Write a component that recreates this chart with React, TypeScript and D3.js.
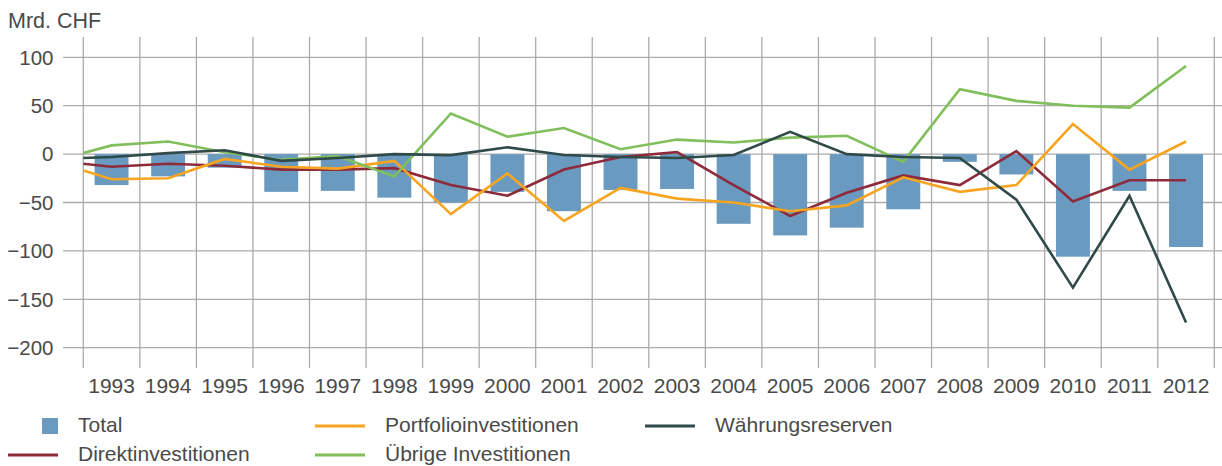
import React from "react";
import * as d3 from "d3";

const years = ["1993","1994","1995","1996","1997","1998","1999","2000","2001","2002","2003","2004","2005","2006","2007","2008","2009","2010","2011","2012"];
// line series start with a 1992 value (clipped at the plot's left edge)
const lineYears = ["1992", ...years];
const total = [-32,-23,-14,-39,-38,-45,-50,-39,-59,-37,-36,-72,-84,-76,-57,-8,-21,-106,-38,-96];
const direkt = [-7,-13,-10,-12,-16,-16,-14.5,-32,-43,-16,-3,2,-32,-64,-40,-22,-32,3,-49,-27,-27];
const portfolio = [-8,-26,-25,-5,-13,-15,-7,-62,-20,-69,-35,-46,-50,-59,-53,-24,-39,-32,31,-16,13];
const uebrige = [-7,9,13,2,-6,-2,-23,42,18,27,5,15,12,17,19,-8,67,55,50,48,91];
const waehrung = [-5,-3,1,4,-7,-4,0,-1,7,-1,-3,-4,-1,23,0,-3,-4,-47,-138,-43,-174];
const yTicks = [100, 50, 0, -50, -100, -150, -200];
const unitLabel = "Mrd. CHF";

const W = 1222, H = 466;
const FONT = "'Liberation Sans', Arial, sans-serif";
const TEXT = "#4a4a4a";
const GRID = "#ababab";

const C = {
  total: "#6a9ac0",
  direkt: "#8e2b3b",
  portfolio: "#f7a521",
  uebrige: "#80bf5c",
  waehrung: "#2f4a48",
};

export default function App() {
  const plotL = 83.3, plotR = 1214.3, plotT = 37, plotB = 368;
  const y = d3.scaleLinear().domain([-221, 121]).range([plotB, plotT]);
  const x = d3.scaleBand<string>().domain(years).range([plotL, plotR]).paddingInner(0.4).paddingOuter(0.2);
  const step = x.step();
  const bw = x.bandwidth();
  const cx = (yr: string) => x(years[0])! + bw / 2 + (+yr - +years[0]) * step;
  const boundaries = d3.range(years.length + 1).map((i) => plotL + i * step);

  const line = d3.line<number>().x((_, i) => cx(lineYears[i])).y((v) => y(v));

  const series = [
    { key: "direkt", data: direkt, color: C.direkt },
    { key: "portfolio", data: portfolio, color: C.portfolio },
    { key: "uebrige", data: uebrige, color: C.uebrige },
    { key: "waehrung", data: waehrung, color: C.waehrung },
  ];

  const legendItems = [
    { label: "Total", type: "rect", color: C.total, x: 42, y: 426 },
    { label: "Direktinvestitionen", type: "line", color: C.direkt, x: 8, y: 455 },
    { label: "Portfolioinvestitionen", type: "line", color: C.portfolio, x: 315, y: 426 },
    { label: "Übrige Investitionen", type: "line", color: C.uebrige, x: 315, y: 455 },
    { label: "Währungsreserven", type: "line", color: C.waehrung, x: 645, y: 426 },
  ];

  return (
    <svg width={W} height={H} style={{ position: "absolute", left: 0, top: 0, background: "#fff" }} fontFamily={FONT}>
      <defs>
        <clipPath id="plotclip">
          <rect x={plotL} y={0} width={plotR - plotL} height={H} />
        </clipPath>
      </defs>
      <text x={8} y={28} fontSize={21.5} fill={TEXT}>{unitLabel}</text>
      {yTicks.map((t) => (
        <g key={t}>
          <line x1={63} x2={W} y1={y(t)} y2={y(t)} stroke={GRID} strokeWidth={1.3} />
          <text x={53.5} y={y(t)} dy="0.36em" textAnchor="end" fontSize={20.5} fill={TEXT}>
            {t < 0 ? "\u2212" + Math.abs(t) : String(t)}
          </text>
        </g>
      ))}
      {boundaries.map((bx, i) => (
        <line key={i} x1={bx} x2={bx} y1={plotT} y2={plotB} stroke={GRID} strokeWidth={1.3} />
      ))}
      {years.map((yr) => (
        <text key={yr} x={cx(yr)} y={393} textAnchor="middle" fontSize={21} fill={TEXT}>{yr}</text>
      ))}
      {total.map((v, i) => (
        <rect key={i} x={x(years[i])} width={bw} y={Math.min(y(v), y(0))} height={Math.abs(y(v) - y(0))} fill={C.total} />
      ))}
      <g clipPath="url(#plotclip)">
        {series.map((s) => (
          <path key={s.key} d={line(s.data) || ""} fill="none" stroke={s.color} strokeWidth={2.6} strokeLinejoin="miter" />
        ))}
      </g>
      {legendItems.map((it) => (
        <g key={it.label}>
          {it.type === "rect" ? (
            <rect x={it.x} y={it.y - 8} width={16} height={16} fill={it.color} />
          ) : (
            <line x1={it.x} x2={it.x + 50} y1={it.y} y2={it.y} stroke={it.color} strokeWidth={3} />
          )}
          <text x={it.type === "rect" ? it.x + 36 : it.x + 70} y={it.y + 6} fontSize={21} fill={TEXT}>{it.label}</text>
        </g>
      ))}
    </svg>
  );
}
